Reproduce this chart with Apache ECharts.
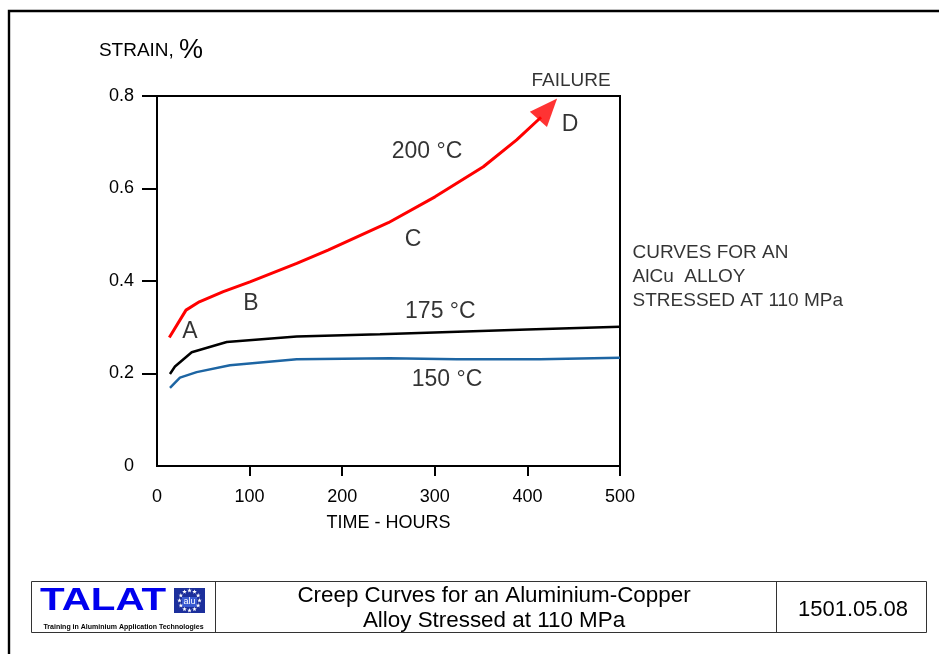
<!DOCTYPE html>
<html><head><meta charset="utf-8">
<script src="https://cdn.jsdelivr.net/npm/echarts@6/dist/echarts.min.js"></script>
<style>html,body{margin:0;padding:0;background:#fff}#c{width:939px;height:654px}</style>
</head><body><div id="c"></div>
<script>
// ---- data ----
const hours200 = [13.3, 31.3, 45.7, 71.6, 100.4, 150.9, 184.7, 249.8, 300.2, 352.4, 388.4, 414.7];
const strain200 = [0.278, 0.337, 0.355, 0.377, 0.398, 0.438, 0.467, 0.526, 0.582, 0.647, 0.705, 0.754];
const hours175 = [14, 19.4, 37.5, 75.3, 150.9, 240.8, 400, 500];
const strain175 = [0.199, 0.215, 0.246, 0.268, 0.280, 0.285, 0.295, 0.301];
const hours150 = [14, 24.8, 42.8, 78.8, 150.9, 251, 323.6, 413.6, 500];
const strain150 = [0.169, 0.191, 0.203, 0.218, 0.231, 0.233, 0.231, 0.231, 0.234];
const failurePoint = [422, 0.772];
const xTickValues = [100, 200, 300, 400, 500];
const yTickValues = [0.2, 0.4, 0.6, 0.8];
const annotations = [
  {name: 'FAILURE', value: [447.1, 0.832], size: 19},
  {name: 'D', value: [446.0, 0.737], size: 23},
  {name: '200 °C', value: [291.6, 0.679], size: 23},
  {name: 'C', value: [276.5, 0.489], size: 23},
  {name: 'B', value: [101.5, 0.350], size: 23},
  {name: 'A', value: [35.6, 0.290], size: 23},
  {name: '175 °C', value: [306, 0.333], size: 23},
  {name: '150 °C', value: [313.2, 0.186], size: 23}
];
const noteText = 'CURVES FOR AN\nAlCu  ALLOY\nSTRESSED AT 110 MPa';
const notePoint = [513, 0.4086];

const zip = (a, b) => a.map((v, i) => [v, b[i]]);
const FONT = '"Liberation Sans", Arial, sans-serif';

function starPts(cx, cy, r) {
  const p = [];
  for (let i = 0; i < 10; i++) {
    const a = -Math.PI / 2 + i * Math.PI / 5;
    const rr = i % 2 ? r * 0.42 : r;
    p.push([cx + rr * Math.cos(a), cy + rr * Math.sin(a)]);
  }
  return p;
}
const stars = [];
for (let i = 0; i < 12; i++) {
  const a = i * Math.PI / 6;
  stars.push({type: 'polygon', shape: {points: starPts(189.5 + 10 * Math.cos(a), 600.5 + 10 * Math.sin(a), 2.4)},
    style: {fill: '#ffffff'}});
}

const chart = echarts.init(document.getElementById('c'), null, {renderer: 'canvas'});
chart.setOption({
  backgroundColor: '#ffffff',
  animation: false,
  textStyle: {fontFamily: FONT},
  grid: {left: 157, right: 319, top: 96, bottom: 188, show: true, borderColor: '#000', borderWidth: 2, backgroundColor: 'transparent'},
  xAxis: {
    type: 'value', min: 0, max: 500, interval: 100,
    name: 'TIME - HOURS', nameLocation: 'middle', nameGap: 48,
    nameTextStyle: {color: '#000', fontSize: 18, fontFamily: FONT},
    axisLine: {show: true, lineStyle: {color: '#000', width: 2}},
    axisTick: {show: true, length: 10, lineStyle: {color: '#000', width: 2}, customValues: xTickValues},
    axisLabel: {color: '#000', fontSize: 18, margin: 22, fontFamily: FONT},
    splitLine: {show: false}
  },
  yAxis: {
    type: 'value', min: 0, max: 0.8, interval: 0.2,
    name: '{a|STRAIN, }{b|%}', nameLocation: 'end', nameGap: 32,
    nameTextStyle: {color: '#000', align: 'center', padding: [0, 12, 0, 0],
      rich: {a: {fontSize: 19, color: '#000', fontFamily: FONT}, b: {fontSize: 27, color: '#000', fontFamily: FONT}}},
    axisLine: {show: true, lineStyle: {color: '#000', width: 2}},
    axisTick: {show: true, length: 15, lineStyle: {color: '#000', width: 2}, customValues: yTickValues},
    axisLabel: {color: '#000', fontSize: 18, margin: 23, fontFamily: FONT},
    splitLine: {show: false}
  },
  series: [
    {type: 'line', name: '200 °C', data: zip(hours200, strain200), showSymbol: false, symbol: 'none',
      lineStyle: {color: '#ff0000', width: 3}, z: 5, clip: false},
    {type: 'scatter', name: 'failure', data: [failurePoint], symbol: 'triangle', symbolSize: [23, 28],
      symbolRotate: -42, itemStyle: {color: '#ff0000'}, z: 6, clip: false},
    {type: 'line', name: '175 °C', data: zip(hours175, strain175), showSymbol: false, symbol: 'none',
      lineStyle: {color: '#000000', width: 2.5}, z: 4},
    {type: 'line', name: '150 °C', data: zip(hours150, strain150), showSymbol: false, symbol: 'none',
      lineStyle: {color: '#1d65a3', width: 2.5}, z: 4},
    {type: 'scatter', name: 'labels', clip: false, symbolSize: 1, itemStyle: {color: 'rgba(0,0,0,0)'},
      data: annotations.map(a => ({name: a.name, value: a.value,
        label: {show: true, position: 'inside', formatter: '{b}', color: '#000', textBorderWidth: 0,
          fontSize: a.size, fontFamily: FONT}}))},
    {type: 'scatter', name: 'note', clip: false, symbolSize: 1, itemStyle: {color: 'rgba(0,0,0,0)'},
      data: [{name: noteText, value: notePoint,
        label: {show: true, position: 'right', distance: 0, align: 'left', formatter: '{b}', color: '#000',
          textBorderWidth: 0, fontSize: 19, lineHeight: 24, fontFamily: FONT}}]}
  ],
  graphic: [
    {type: 'polyline', shape: {points: [[9, 654], [9, 11], [939, 11]]}, style: {stroke: '#000', lineWidth: 2.4, fill: null}},
    {type: 'rect', shape: {x: 31.5, y: 581.5, width: 895, height: 51}, style: {stroke: '#333', lineWidth: 1, fill: null}},
    {type: 'line', shape: {x1: 215.5, y1: 581.5, x2: 215.5, y2: 632.5}, style: {stroke: '#333', lineWidth: 1}},
    {type: 'line', shape: {x1: 776.5, y1: 581.5, x2: 776.5, y2: 632.5}, style: {stroke: '#333', lineWidth: 1}},
    {type: 'text', x: 40, y: 601, scaleX: 1.26, style: {text: 'TALAT', fontSize: 32, fontWeight: 'bold', fontFamily: FONT,
      fill: '#0000ee', verticalAlign: 'middle', align: 'left'}},
    {type: 'rect', shape: {x: 174, y: 588, width: 31, height: 25}, style: {fill: '#1c2f9c'}},
    {type: 'rect', shape: {x: 182, y: 597, width: 15, height: 10}, style: {fill: '#3a5ad0'}},
    {type: 'text', x: 189.5, y: 602, style: {text: 'alu', fontSize: 9, fontFamily: FONT, fill: '#ffffff', align: 'center', verticalAlign: 'middle'}},
    ...stars,
    {type: 'text', x: 123.5, y: 627, style: {text: 'Training in Aluminium Application Technologies', fontSize: 7, fontWeight: 'bold',
      fontFamily: FONT, fill: '#000', align: 'center', verticalAlign: 'middle'}},
    {type: 'text', x: 494, y: 608.5, style: {text: 'Creep Curves for an Aluminium-Copper\nAlloy Stressed at 110 MPa', fontSize: 22.4,
      lineHeight: 25, fontFamily: FONT, fill: '#000', align: 'center', verticalAlign: 'middle'}},
    {type: 'text', x: 853, y: 610, style: {text: '1501.05.08', fontSize: 22, fontFamily: FONT, fill: '#000', align: 'center', verticalAlign: 'middle'}}
  ]
});
</script></body></html>
